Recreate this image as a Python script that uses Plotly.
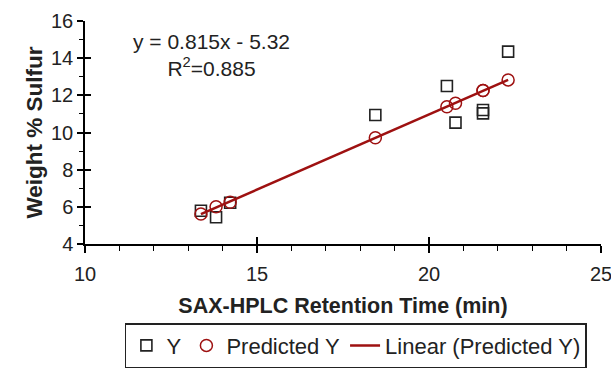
import plotly.graph_objects as go
import numpy as np

# Data
retention_time = [13.37, 13.81, 14.22, 18.44, 20.52, 20.77, 21.57, 21.57, 22.30]
y_measured = [5.79, 5.44, 6.22, 10.94, 12.50, 10.53, 11.21, 11.03, 14.35]
y_predicted = [5.61, 6.00, 6.25, 9.72, 11.39, 11.57, 12.26, 12.26, 12.83]

x_range = [10, 25]
y_range = [4, 16]
x_ticks = [10, 15, 20, 25]
y_ticks = [4, 6, 8, 10, 12, 14, 16]

equation_text = "y = 0.815x - 5.32"
r2_text = "R<sup>2</sup>=0.885"

# Linear trendline fitted to predicted Y
slope, intercept = np.polyfit(retention_time, y_predicted, 1)
trend_x = [min(retention_time), max(retention_time)]
trend_y = [slope * v + intercept for v in trend_x]

RED = "#9e1111"
FONT = "Liberation Sans, Arial, sans-serif"

fig = go.Figure()
fig.add_trace(go.Scatter(
    x=retention_time, y=y_measured, mode="markers", name="Y",
    marker=dict(symbol="square-open", size=11, color="#222222", line=dict(width=1.6)),
))
fig.add_trace(go.Scatter(
    x=retention_time, y=y_predicted, mode="markers", name="Predicted Y",
    marker=dict(symbol="circle-open", size=12, color=RED, line=dict(width=1.5)),
))
fig.add_trace(go.Scatter(
    x=trend_x, y=trend_y, mode="lines", name="Linear (Predicted Y)",
    line=dict(color=RED, width=2.5),
))
# dummy trace for the overlaid tick axes
fig.add_trace(go.Scatter(x=[None], y=[None], xaxis="x2", yaxis="y2",
                         showlegend=False, hoverinfo="skip"))

axis_common = dict(showgrid=False, zeroline=False, linecolor="black", linewidth=1.5,
                   tickcolor="black", tickwidth=1.5, ticklabeloverflow="allow",
                   automargin=False)

fig.update_layout(
    width=611, height=368,
    margin=dict(l=85, r=10, t=21, b=124),
    paper_bgcolor="white", plot_bgcolor="white",
    font=dict(family=FONT, size=20, color="#222222"),
    xaxis=dict(range=x_range, tickvals=x_ticks, ticks="outside", ticklen=7,
               showline=True, ticklabelstandoff=4,
               minor=dict(ticks="outside", ticklen=5, dtick=1, tickcolor="black", tickwidth=1.2),
               title=dict(text="<b>SAX-HPLC Retention Time (min)</b>", font=dict(size=21.5), standoff=14),
               tickfont=dict(size=20), **axis_common),
    yaxis=dict(range=y_range, tickvals=y_ticks, ticks="outside", ticklen=6,
               showline=True,
               minor=dict(ticks="outside", ticklen=4, dtick=1, tickcolor="black", tickwidth=1.2),
               title=dict(text="<b>Weight % Sulfur</b>", font=dict(size=22.5), standoff=2),
               tickfont=dict(size=20), **axis_common),
    xaxis2=dict(range=x_range, tickvals=x_ticks, ticks="inside", ticklen=7, overlaying="x",
                anchor="y2", showline=False, showticklabels=False, showgrid=False,
                zeroline=False, tickcolor="black", tickwidth=1.5, automargin=False),
    yaxis2=dict(range=y_range, tickvals=y_ticks, ticks="inside", ticklen=6, overlaying="y",
                anchor="x2", showline=False, showticklabels=False, showgrid=False,
                zeroline=False, tickcolor="black", tickwidth=1.5, automargin=False),
    legend=dict(orientation="h", x=0.525, xanchor="center",
                yref="container", y=0.122, yanchor="top",
                bordercolor="#222222", borderwidth=1.5, font=dict(size=22),
                itemwidth=30, bgcolor="white"),
    showlegend=True,
)

fig.add_annotation(x=0.245, y=0.97, xref="paper", yref="paper", showarrow=False,
                   text=equation_text + "<br>" + r2_text, align="center",
                   font=dict(size=21, family=FONT, color="#222222"),
                   xanchor="center", yanchor="top")

fig.write_html("out.html")
